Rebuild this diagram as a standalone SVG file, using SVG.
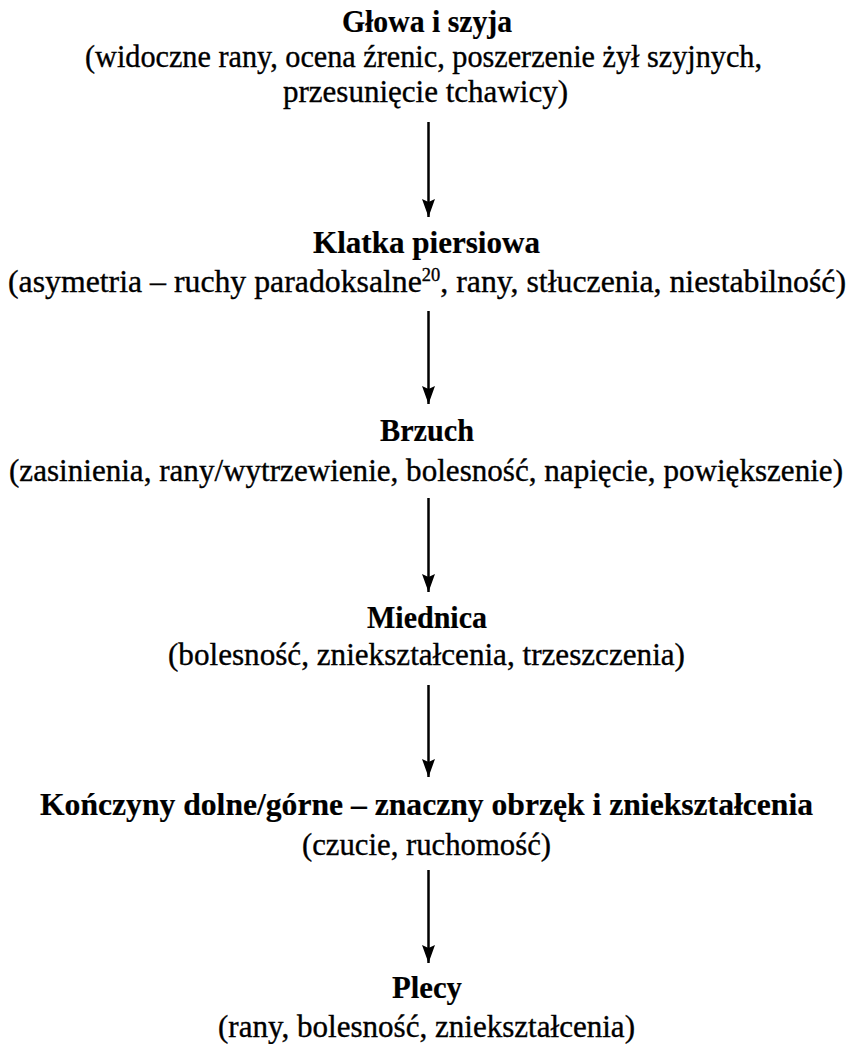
<svg xmlns="http://www.w3.org/2000/svg" width="849" height="1044" viewBox="0 0 849 1044">
<style>
text{font-family:"Liberation Serif","DejaVu Serif",serif;font-size:31px;fill:#000;stroke:#000;stroke-width:0.35;text-anchor:middle}
.b{font-weight:bold;stroke-width:0.2}
.c line{stroke:#000;stroke-width:2.5}
</style>
<defs>
<marker id="ah" viewBox="0 0 18 13" refX="18" refY="6.5" markerWidth="18" markerHeight="13" markerUnits="userSpaceOnUse" orient="auto">
<path d="M0,0 L18,6.5 L0,13 L3,6.5 Z" fill="#000"/>
</marker>
</defs>
<rect width="849" height="1044" fill="#fff"/>
<g id="n1"><text class="b" x="427" y="32" textLength="170" lengthAdjust="spacingAndGlyphs">Głowa i szyja</text><text x="423.5" y="67" textLength="677" lengthAdjust="spacingAndGlyphs">(widoczne rany, ocena źrenic, poszerzenie żył szyjnych,</text><text x="425.5" y="102" textLength="285" lengthAdjust="spacingAndGlyphs">przesunięcie tchawicy)</text></g>
<g id="n2"><text class="b" x="426.5" y="253" textLength="227" lengthAdjust="spacingAndGlyphs">Klatka piersiowa</text><text x="427" y="292" textLength="838" lengthAdjust="spacingAndGlyphs">(asymetria – ruchy paradoksalne<tspan font-size="18" dy="-11">20</tspan><tspan dy="11">, rany, stłuczenia, niestabilność)</tspan></text></g>
<g id="n3"><text class="b" x="427" y="441" textLength="94" lengthAdjust="spacingAndGlyphs">Brzuch</text><text x="426" y="481" textLength="834" lengthAdjust="spacingAndGlyphs">(zasinienia, rany/wytrzewienie, bolesność, napięcie, powiększenie)</text></g>
<g id="n4"><text class="b" x="427" y="628" textLength="120" lengthAdjust="spacingAndGlyphs">Miednica</text><text x="426.5" y="665" textLength="517" lengthAdjust="spacingAndGlyphs">(bolesność, zniekształcenia, trzeszczenia)</text></g>
<g id="n5"><text class="b" x="426.5" y="815" textLength="773" lengthAdjust="spacingAndGlyphs">Kończyny dolne/górne – znaczny obrzęk i zniekształcenia</text><text x="426.5" y="855" textLength="249" lengthAdjust="spacingAndGlyphs">(czucie, ruchomość)</text></g>
<g id="n6"><text class="b" x="427" y="998" textLength="70" lengthAdjust="spacingAndGlyphs">Plecy</text><text x="426.5" y="1037" textLength="417" lengthAdjust="spacingAndGlyphs">(rany, bolesność, zniekształcenia)</text></g>
<g class="c">
<line x1="428.5" y1="122" x2="428.5" y2="217" marker-end="url(#ah)"/>
<line x1="428.5" y1="311" x2="428.5" y2="404" marker-end="url(#ah)"/>
<line x1="428.5" y1="498" x2="428.5" y2="592" marker-end="url(#ah)"/>
<line x1="428.5" y1="685" x2="428.5" y2="777" marker-end="url(#ah)"/>
<line x1="428.5" y1="870" x2="428.5" y2="963" marker-end="url(#ah)"/>
</g>
</svg>
